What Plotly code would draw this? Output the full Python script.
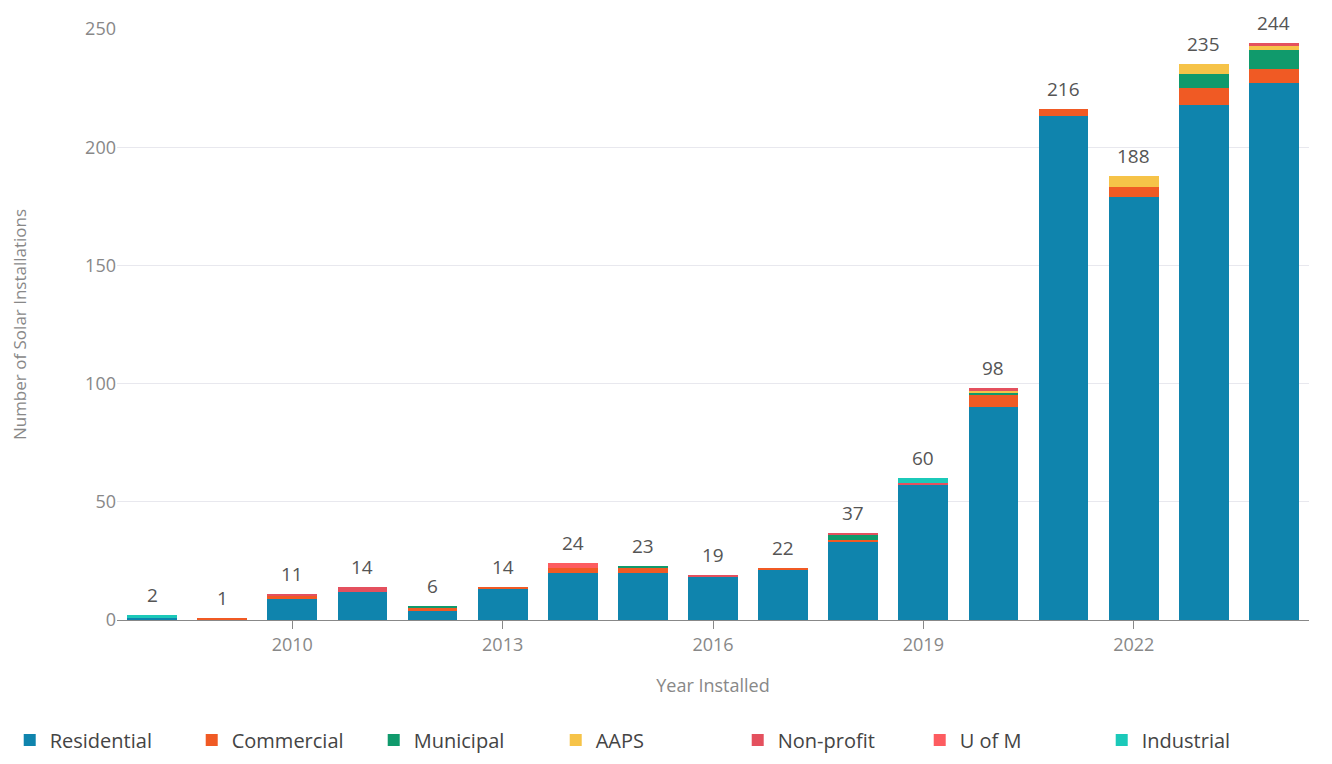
import plotly.graph_objects as go

years = list(range(2008, 2025))

residential = [1, 0, 9, 12, 4, 13, 20, 20, 18, 21, 33, 57, 90, 213, 179, 218, 227]
commercial = [0, 1, 1, 0, 1, 1, 2, 2, 0, 1, 1, 0, 5, 3, 4, 7, 6]
municipal = [0, 0, 0, 0, 1, 0, 0, 1, 0, 0, 2, 0, 1, 0, 0, 6, 8]
aaps = [0, 0, 0, 0, 0, 0, 0, 0, 0, 0, 0, 0, 1, 0, 5, 4, 2]
non_profit = [0, 0, 1, 2, 0, 0, 0, 0, 1, 0, 1, 1, 1, 0, 0, 0, 1]
u_of_m = [0, 0, 0, 0, 0, 0, 2, 0, 0, 0, 0, 0, 0, 0, 0, 0, 0]
industrial = [1, 0, 0, 0, 0, 0, 0, 0, 0, 0, 0, 2, 0, 0, 0, 0, 0]

series = [
    ("Residential", residential, "#0f84ad"),
    ("Commercial", commercial, "#f05a24"),
    ("Municipal", municipal, "#109a6c"),
    ("AAPS", aaps, "#f6c348"),
    ("Non-profit", non_profit, "#e4505e"),
    ("U of M", u_of_m, "#fd5c60"),
    ("Industrial", industrial, "#1bc9b9"),
]

totals = [sum(v) for v in zip(*[s[1] for s in series])]

fig = go.Figure()
for name, vals, col in series:
    fig.add_trace(go.Bar(x=years, y=vals, name=name, marker_color=col,
                         marker_line_width=0))

# totals above each bar
for yr, t in zip(years, totals):
    fig.add_annotation(x=yr, y=t, text=str(t), showarrow=False, yanchor="bottom",
                       yshift=5, font=dict(size=19, color="#555555"))

# page body has an 8px margin, so the figure is a bit smaller than the window
fig.update_layout(
    barmode="stack",
    bargap=0.29,
    width=1316, height=748,
    margin=dict(l=109, r=15, t=21, b=136, autoexpand=False),
    paper_bgcolor="white", plot_bgcolor="white",
    font=dict(family="Open Sans", color="#777777"),
    legend=dict(orientation="h", x=-0.09, xanchor="left", y=-0.203, yanchor="middle",
                font=dict(size=20, color="#444444"),
                entrywidth=137, entrywidthmode="pixels",
                traceorder="normal"),
)
fig.update_xaxes(
    range=[2007.5, 2024.5], tick0=2010, dtick=3,
    showline=True, linecolor="#888888", linewidth=1,
    ticks="outside", ticklen=8, tickcolor="#888888",
    tickfont=dict(size=18, color="#888888"),
    title=dict(text="Year Installed", font=dict(size=18, color="#888888"), standoff=24),
    showgrid=False,
)
fig.update_yaxes(
    range=[0, 250], dtick=50,
    showgrid=True, gridcolor="#e8e8ee", zeroline=False,
    tickfont=dict(size=18, color="#888888"),
    title=dict(text="Number of Solar Installations", font=dict(size=17, color="#888888"), standoff=63),
)

fig.write_html("out.html")
